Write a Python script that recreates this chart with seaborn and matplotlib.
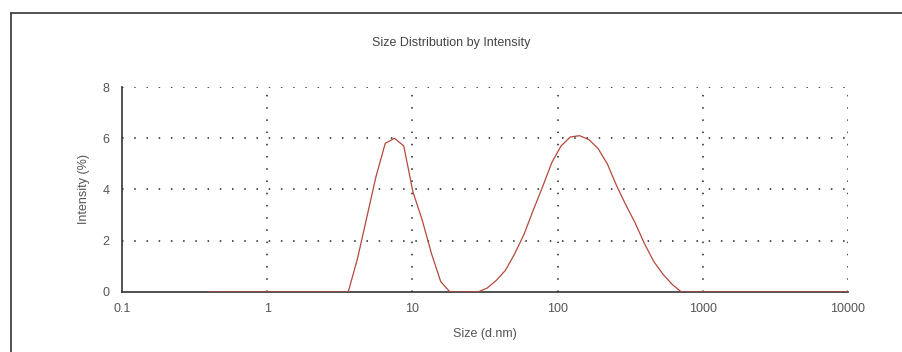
import matplotlib
matplotlib.use("Agg")
import matplotlib.pyplot as plt
import seaborn as sns
import pandas as pd
from matplotlib.lines import Line2D

# Size bins (d.nm) and intensity (%)
size_nm = [0.4, 0.4632, 0.5365, 0.6213, 0.7195, 0.8332, 0.9649, 1.117, 1.294, 1.499,
           1.736, 2.010, 2.328, 2.696, 3.122, 3.615, 4.187, 4.849, 5.615, 6.503,
           7.531, 8.721, 10.10, 11.70, 13.54, 15.69, 18.17, 21.04, 24.36, 28.21,
           32.67, 37.84, 43.82, 50.75, 58.77, 68.06, 78.82, 91.28, 105.7, 122.4,
           141.8, 164.2, 190.1, 220.2, 255.0, 295.3, 342.0, 396.1, 458.7, 531.2,
           615.1, 712.4, 825.0, 955.4, 1106, 1281, 1484, 1718, 1990, 2305,
           2669, 3091, 3580, 4145, 4801, 5560, 6439, 7456, 8635, 10000]
intensity_pct = [0, 0, 0, 0, 0, 0, 0, 0, 0, 0,
                 0, 0, 0, 0, 0, 0, 1.3, 2.9, 4.5, 5.8,
                 6.0, 5.7, 3.9, 2.8, 1.5, 0.4, 0, 0, 0, 0,
                 0.15, 0.45, 0.85, 1.5, 2.25, 3.2, 4.1, 5.05, 5.7, 6.05,
                 6.1, 5.95, 5.6, 5.0, 4.15, 3.4, 2.7, 1.9, 1.2, 0.7,
                 0.3, 0, 0, 0, 0, 0, 0, 0, 0, 0,
                 0, 0, 0, 0, 0, 0, 0, 0, 0, 0]

x_ticks = [0.1, 1, 10, 100, 1000, 10000]
x_tick_labels = ["0.1", "1", "10", "100", "1000", "10000"]
y_ticks = [0, 2, 4, 6, 8]

title = "Size Distribution by Intensity"
x_label = "Size (d.nm)"
y_label = "Intensity (%)"

sns.set_style("white")
plt.rcParams['font.family'] = ['Liberation Sans', 'DejaVu Sans']

df = pd.DataFrame({"size": size_nm, "intensity": intensity_pct})

fig = plt.figure(figsize=(9.03, 3.52), dpi=100)
ax = fig.add_axes([0.1351, 0.1705, 0.8039, 0.5823])

txt_col = "#555555"
grid_col = "#222222"

# grid
for xv in x_ticks[1:]:
    ax.axvline(xv, color=grid_col, lw=1.1, ls=(0, (1, 7)), zorder=1)
for yv in y_ticks[1:]:
    ax.axhline(yv, color=grid_col, lw=1.1, ls=(0, (1, 7)), zorder=1)

sns.lineplot(data=df, x="size", y="intensity", ax=ax, color="#b5483c",
             linewidth=0.9, zorder=3)

ax.set_xscale("log")
ax.set_xlim(0.1, 10000)
ax.set_ylim(0, 8)
ax.set_xticks(x_ticks)
ax.set_xticklabels(x_tick_labels)
ax.set_yticks(y_ticks)
ax.minorticks_off()
ax.tick_params(axis="both", labelsize=9, colors=txt_col, length=3, width=0.8)
ax.tick_params(axis="x", pad=8, length=0)
ax.tick_params(axis="y", pad=6)

for s in ["top", "right"]:
    ax.spines[s].set_visible(False)
for s in ["left", "bottom"]:
    ax.spines[s].set_color("#333333")
    ax.spines[s].set_linewidth(1.2)

ax.set_xlabel(x_label, fontsize=9, color=txt_col, labelpad=9)
ax.set_ylabel(y_label, fontsize=9, color=txt_col, labelpad=9)
fig.text(0.5, 0.878, title, ha="center", va="center", fontsize=9, color="#444444")

# outer frame lines
fig.add_artist(Line2D([0.0122, 0.0122], [0, 0.963], transform=fig.transFigure,
                      color="#333333", lw=1.2))
fig.add_artist(Line2D([0.0122, 1.0], [0.963, 0.963], transform=fig.transFigure,
                      color="#333333", lw=1.2))

fig.savefig("out.png", dpi=100)
